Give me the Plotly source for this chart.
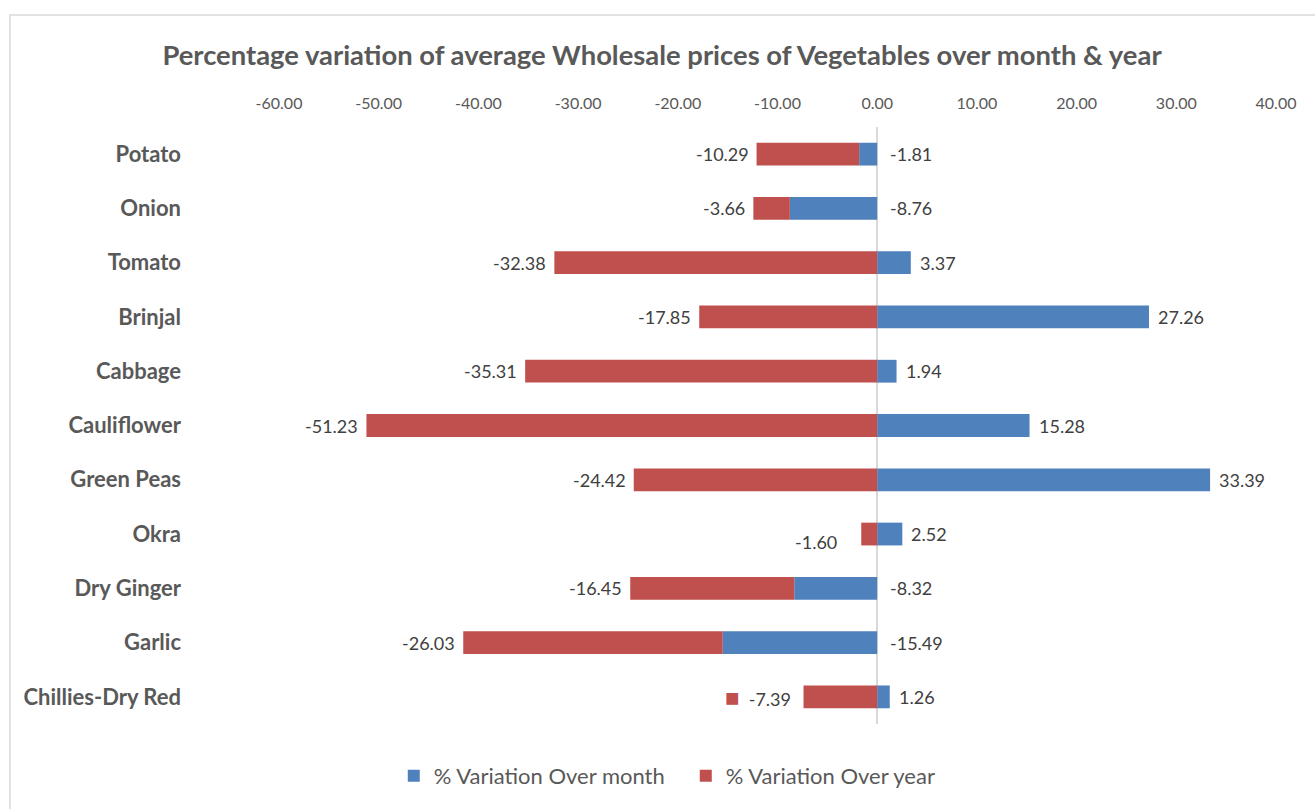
import plotly.graph_objects as go

categories = ["Potato", "Onion", "Tomato", "Brinjal", "Cabbage", "Cauliflower",
              "Green Peas", "Okra", "Dry Ginger", "Garlic", "Chillies-Dry Red"]
month_var = [-1.81, -8.76, 3.37, 27.26, 1.94, 15.28, 33.39, 2.52, -8.32, -15.49, 1.26]
year_var = [-10.29, -3.66, -32.38, -17.85, -35.31, -51.23, -24.42, -1.60, -16.45, -26.03, -7.39]
x_ticks = [-60, -50, -40, -30, -20, -10, 0, 10, 20, 30, 40]
x_tick_labels = ["-60.00", "-50.00", "-40.00", "-30.00", "-20.00", "-10.00",
                 "0.00", "10.00", "20.00", "30.00", "40.00"]

BLUE = "#4F81BD"
RED = "#C0504D"
GRAY = "#595959"
LABEL = "#404040"
FONT = "Lato"

fig = go.Figure()
fig.add_trace(go.Bar(y=categories, x=month_var, orientation="h", name="% Variation Over month",
                     marker=dict(color=BLUE, line=dict(width=0))))
fig.add_trace(go.Bar(y=categories, x=year_var, orientation="h", name="% Variation Over year",
                     marker=dict(color=RED, line=dict(width=0))))

annotations = []
for c, m, y in zip(categories, month_var, year_var):
    bx = m if m > 0 else 0
    annotations.append(dict(x=bx, y=c, xref="x", yref="y", text=f"{m:.2f}", showarrow=False,
                            xanchor="left", xshift=7 if m > 0 else 11,
                            font=dict(family=FONT, size=18, color=LABEL)))
    neg_base = m if m < 0 else 0
    end = neg_base + y
    ys = -8 if c == "Okra" else 0
    xs = -22 if c == "Okra" else -6
    txt = f"{y:.2f}"
    if c == "Chillies-Dry Red":
        txt = f"<span style='color:{RED};font-size:24px'>■</span>  {txt}"
        xs = -11
    annotations.append(dict(x=end, y=c, xref="x", yref="y", text=txt, showarrow=False,
                            xanchor="right", xshift=xs, yshift=ys,
                            font=dict(family=FONT, size=18, color=LABEL)))

fig.update_layout(
    width=1315, height=809,
    barmode="relative", bargap=0.58,
    paper_bgcolor="white", plot_bgcolor="white",
    margin=dict(l=279, r=39, t=127, b=83),
    title=dict(text="<b>Percentage variation of average Wholesale prices of Vegetables over month & year</b>",
               x=662 / 1315, xref="container", xanchor="center",
               y=1 - 55 / 809, yref="container", yanchor="middle",
               font=dict(family=FONT, size=27.4, color=GRAY)),
    xaxis=dict(side="top", range=[-60, 40], tickvals=x_ticks, ticktext=x_tick_labels,
               showgrid=False, zeroline=True, zerolinecolor="#D9D9D9", zerolinewidth=2,
               showline=False, ticks="", ticklabelstandoff=14,
               tickfont=dict(family=FONT, size=16, color=GRAY)),
    yaxis=dict(autorange="reversed", showgrid=False, showline=False, ticks="",
               ticklabelstandoff=97, tickfont=dict(family=FONT, size=22, color=GRAY),
               tickprefix="<b>", ticksuffix="</b>"),
    legend=dict(orientation="h", x=0.408, xanchor="center", y=-0.087, yanchor="middle",
                font=dict(family=FONT, size=22, color=GRAY), traceorder="normal",
                itemwidth=30, entrywidth=247, entrywidthmode="pixels"),
    annotations=annotations,
    shapes=[dict(type="rect", xref="paper", yref="paper", x0=(10 - 279) / 997, x1=2,
                 y0=-2, y1=(726 - 14) / 599.5, line=dict(color="#D9D9D9", width=1.5))],
    showlegend=True,
)

fig.write_html("out.html", config={"displayModeBar": False},
               post_script="document.body.style.margin='0';")
